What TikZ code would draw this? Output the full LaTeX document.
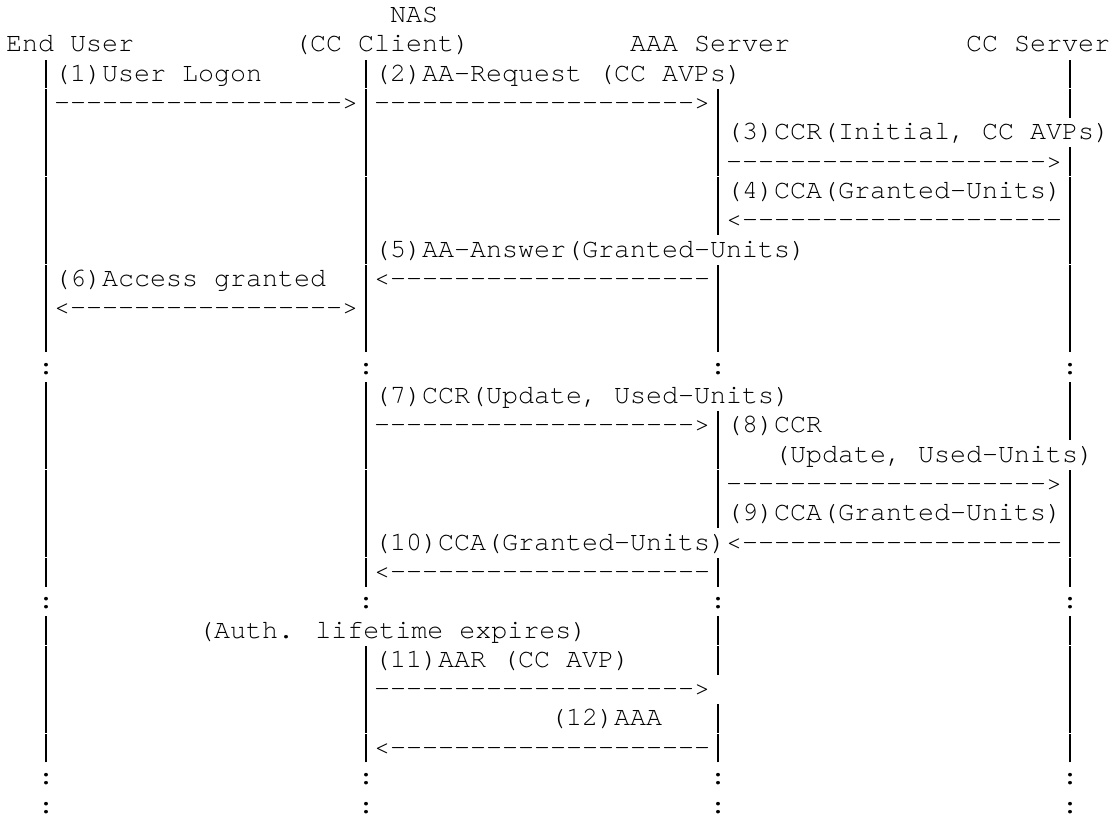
\documentclass[tikz,border=0pt]{standalone}
\usepackage{fontspec}
\newfontfamily\cour{TeX Gyre Cursor}
\tikzset{
  seg/.style={anchor=base west, inner sep=0pt, outer sep=0pt,
    font=\cour\fontsize{26.667pt}{29.3pt}\selectfont, text=black}
}
\newcommand\seg[4]{\node[seg] (#1) at ({(6+16*#3)*1pt},{(765-(#2-2)*29.3)*1pt}) {#4};}
\newcommand\dsh[1]{\foreach\k in {1,...,#1}{-}}
\newcommand\pp{\makebox[16pt]{\rule[-7.2pt]{1.3pt}{28.9pt}}}
\begin{document}
\begin{tikzpicture}
\fill[white] (0,0) rectangle (1116pt,817pt);
\useasboundingbox (0,0) rectangle (1116pt,817pt);
% row 1-2 headers
\seg{nas}{1}{24}{NAS}
\seg{eu}{2}{0}{End User}
\seg{ccc}{2}{18}{(CC Client)}
\seg{aaa}{2}{39}{AAA Server}
\seg{ccs}{2}{60}{CC Server}
% row 3
\seg{r3a}{3}{2}{\pp(1)User Logon}
\seg{r3b}{3}{22}{\pp(2)AA-Request (CC AVPs)}
\seg{r3c}{3}{66}{\pp}
% row 4
\seg{r4a}{4}{2}{\pp\dsh{18}>\pp\dsh{20}>\pp}
\seg{r4b}{4}{66}{\pp}
% row 5
\seg{r5a}{5}{2}{\pp}
\seg{r5b}{5}{22}{\pp}
\seg{r5c}{5}{44}{\pp(3)CCR(Initial, CC AVPs)}
% row 6
\seg{r6a}{6}{2}{\pp}
\seg{r6b}{6}{22}{\pp}
\seg{r6c}{6}{44}{\pp\dsh{20}>\pp}
% row 7
\seg{r7a}{7}{2}{\pp}
\seg{r7b}{7}{22}{\pp}
\seg{r7c}{7}{44}{\pp(4)CCA(Granted-Units)\pp}
% row 8
\seg{r8a}{8}{2}{\pp}
\seg{r8b}{8}{22}{\pp}
\seg{r8c}{8}{44}{\pp<\dsh{20}\pp}
% row 9
\seg{r9a}{9}{2}{\pp}
\seg{r9b}{9}{22}{\pp(5)AA-Answer(Granted-Units)}
\seg{r9c}{9}{66}{\pp}
% row 10
\seg{r10a}{10}{2}{\pp(6)Access granted}
\seg{r10b}{10}{22}{\pp<\dsh{20}\pp}
\seg{r10c}{10}{66}{\pp}
% row 11
\seg{r11a}{11}{2}{\pp<\dsh{17}>\pp}
\seg{r11b}{11}{44}{\pp}
\seg{r11c}{11}{66}{\pp}
% row 12
\seg{r12a}{12}{2}{\pp}
\seg{r12b}{12}{22}{\pp}
\seg{r12c}{12}{44}{\pp}
\seg{r12d}{12}{66}{\pp}
% row 13
\seg{r13a}{13}{2}{:}
\seg{r13b}{13}{22}{:}
\seg{r13c}{13}{44}{:}
\seg{r13d}{13}{66}{:}
% row 14
\seg{r14a}{14}{2}{\pp}
\seg{r14b}{14}{22}{\pp(7)CCR(Update, Used-Units)}
\seg{r14c}{14}{66}{\pp}
% row 15
\seg{r15a}{15}{2}{\pp}
\seg{r15b}{15}{22}{\pp\dsh{20}>\pp(8)CCR}
\seg{r15c}{15}{66}{\pp}
% row 16
\seg{r16a}{16}{2}{\pp}
\seg{r16b}{16}{22}{\pp}
\seg{r16c}{16}{44}{\pp}
\seg{r16d}{16}{48}{(Update, Used-Units)}
% row 17
\seg{r17a}{17}{2}{\pp}
\seg{r17b}{17}{22}{\pp}
\seg{r17c}{17}{44}{\pp\dsh{20}>\pp}
% row 18
\seg{r18a}{18}{2}{\pp}
\seg{r18b}{18}{22}{\pp}
\seg{r18c}{18}{44}{\pp(9)CCA(Granted-Units)\pp}
% row 19
\seg{r19a}{19}{2}{\pp}
\seg{r19b}{19}{22}{\pp(10)CCA(Granted-Units)<\dsh{20}\pp}
% row 20
\seg{r20a}{20}{2}{\pp}
\seg{r20b}{20}{22}{\pp<\dsh{20}\pp}
\seg{r20c}{20}{66}{\pp}
% row 21
\seg{r21a}{21}{2}{:}
\seg{r21b}{21}{22}{:}
\seg{r21c}{21}{44}{:}
\seg{r21d}{21}{66}{:}
% row 22
\seg{r22a}{22}{2}{\pp}
\seg{r22b}{22}{12}{(Auth. lifetime expires)}
\seg{r22c}{22}{44}{\pp}
\seg{r22d}{22}{66}{\pp}
% row 23
\seg{r23a}{23}{2}{\pp}
\seg{r23b}{23}{22}{\pp(11)AAR (CC AVP)}
\seg{r23c}{23}{44}{\pp}
\seg{r23d}{23}{66}{\pp}
% row 24
\seg{r24a}{24}{2}{\pp}
\seg{r24b}{24}{22}{\pp\dsh{20}>}
\seg{r24c}{24}{66}{\pp}
% row 25
\seg{r25a}{25}{2}{\pp}
\seg{r25b}{25}{22}{\pp}
\seg{r25c}{25}{34}{(12)AAA}
\seg{r25d}{25}{44}{\pp}
\seg{r25e}{25}{66}{\pp}
% row 26
\seg{r26a}{26}{2}{\pp}
\seg{r26b}{26}{22}{\pp<\dsh{20}\pp}
\seg{r26c}{26}{66}{\pp}
% rows 27-28
\seg{r27a}{27}{2}{:}
\seg{r27b}{27}{22}{:}
\seg{r27c}{27}{44}{:}
\seg{r27d}{27}{66}{:}
\seg{r28a}{28}{2}{:}
\seg{r28b}{28}{22}{:}
\seg{r28c}{28}{44}{:}
\seg{r28d}{28}{66}{:}
\end{tikzpicture}
\end{document}
